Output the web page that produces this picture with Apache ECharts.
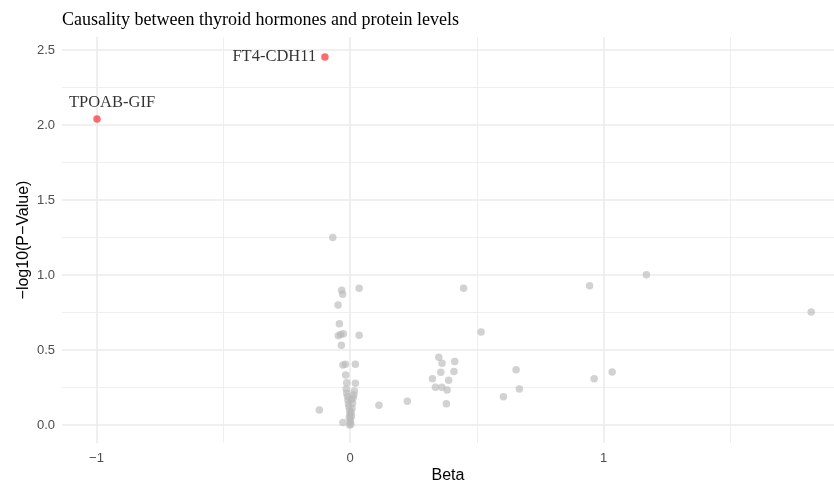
<!DOCTYPE html>
<html>
<head>
<meta charset="utf-8">
<script src="https://cdn.jsdelivr.net/npm/echarts@6/dist/echarts.min.js"></script>
<style>html,body{margin:0;padding:0;background:#fff}#c{width:834px;height:483px}</style>
</head>
<body>
<div id="c"></div>
<script>
// ---- data ----
const grayBeta = [-0.068,-0.033,-0.029,0.036,-0.047,-0.042,-0.046,-0.037,-0.026,0.036,-0.034,-0.028,-0.018,0.021,-0.017,-0.013,0.021,-0.013,0.017,-0.121,0.114,0.226,-0.028,
  -0.010,-0.008,0.005,-0.006,0.010,-0.004,0.008,-0.002,0.004,0.000,0.006,-0.003,0.002,0.000,0.003,-0.001,0.012,-0.015,0.015,
  0.448,0.517,0.350,0.363,0.413,0.358,0.410,0.325,0.389,0.337,0.362,0.383,0.380,0.655,0.668,0.605,0.945,1.169,1.819,0.963,1.034];
const grayLogP = [1.251,0.898,0.871,0.911,0.800,0.675,0.595,0.604,0.609,0.598,0.531,0.400,0.405,0.405,0.333,0.282,0.278,0.211,0.227,0.100,0.131,0.158,0.016,
  0.190,0.165,0.170,0.140,0.145,0.120,0.110,0.095,0.085,0.070,0.060,0.050,0.035,0.020,0.005,0.000,0.180,0.240,0.200,
  0.911,0.620,0.451,0.411,0.424,0.351,0.357,0.309,0.298,0.251,0.251,0.233,0.142,0.369,0.240,0.189,0.929,1.002,0.753,0.309,0.353];
const sigNames = ['TPOAB-GIF','FT4-CDH11'];
const sigBeta = [-0.998,-0.099];
const sigLogP = [2.040,2.453];
const xTicks = [-1,0,1];
const xMinor = [-0.5,0.5,1.5];
const yTicks = [0,0.5,1,1.5,2,2.5];
const yMinor = [0.25,0.75,1.25,1.75,2.25];
const xRange = [-1.136,1.909];
const yRange = [-0.12,2.587];

// ---- styles ----
const sigLabelStyles = [
  {position:'top', distance:4, offset:[15,0]},
  {position:'left', distance:5, offset:[0,0]}
];
const fmtNum = v => (v < 0 ? '\u2212' + Math.abs(v) : String(v));
const near = (arr, v) => arr.some(t => Math.abs(t - v) < 1e-9);

const chart = echarts.init(document.getElementById('c'), null, {renderer:'canvas'});
chart.setOption({
  animation:false,
  backgroundColor:'#fff',
  title:{text:'Causality between thyroid hormones and protein levels', left:62, top:11, padding:0,
    textStyle:{fontFamily:'Liberation Serif', fontSize:18, fontWeight:'normal', color:'#000'}},
  grid:{left:62, right:0, top:37, bottom:40, containLabel:false, outerBoundsMode:'none'},
  xAxis:{type:'value', min:xRange[0], max:xRange[1],
    name:'Beta', nameLocation:'middle', nameGap:25, nameMoveOverlap:false,
    nameTextStyle:{fontFamily:'Liberation Sans', fontSize:16, color:'#000'},
    axisLine:{show:false}, axisTick:{show:false}, splitLine:{show:false},
    axisLabel:{showMinLabel:false, showMaxLabel:false, margin:9, color:'#4D4D4D', fontFamily:'Liberation Sans', fontSize:13,
      formatter: v => near(xTicks, v) ? fmtNum(v) : ''}},
  yAxis:{type:'value', min:yRange[0], max:yRange[1],
    name:'\u2212log10(P\u2212Value)', nameLocation:'middle', nameGap:30, nameRotate:90, nameMoveOverlap:false,
    nameTextStyle:{fontFamily:'Liberation Sans', fontSize:16, color:'#000'},
    axisLine:{show:false}, axisTick:{show:false}, splitLine:{show:false},
    axisLabel:{showMinLabel:false, showMaxLabel:false, margin:7, color:'#4D4D4D', fontFamily:'Liberation Sans', fontSize:13,
      formatter: v => near(yTicks, v) ? v.toFixed(1) : ''}},
  series:[
    {type:'scatter', data:[], z:1, silent:true,
      markLine:{z:1, silent:true, symbol:['none','none'], label:{show:false}, animation:false,
        data:[
          ...xMinor.map(v => ({xAxis:v, lineStyle:{color:'#EBEBEB', width:0.8, type:'solid'}})),
          ...yMinor.map(v => ({yAxis:v, lineStyle:{color:'#EBEBEB', width:0.8, type:'solid'}})),
          ...xTicks.map(v => ({xAxis:v, lineStyle:{color:'#EBEBEB', width:1.6, type:'solid'}})),
          ...yTicks.map(v => ({yAxis:v, lineStyle:{color:'#EBEBEB', width:1.6, type:'solid'}}))
        ]}},
    {type:'scatter', z:3, symbolSize:7.5,
      itemStyle:{color:'rgba(185,185,185,0.8)'},
      data: grayBeta.map((b,i) => [b, grayLogP[i]])},
    {type:'scatter', z:4, symbolSize:7.5,
      itemStyle:{color:'rgba(250,25,25,0.8)'},
      label:{show:true, formatter:p => p.name, fontFamily:'Liberation Serif', fontSize:16.5, color:'#000'},
      data: sigBeta.map((b,i) => ({name:sigNames[i], value:[b, sigLogP[i]], label:sigLabelStyles[i]}))}
  ]
});
</script>
</body>
</html>
